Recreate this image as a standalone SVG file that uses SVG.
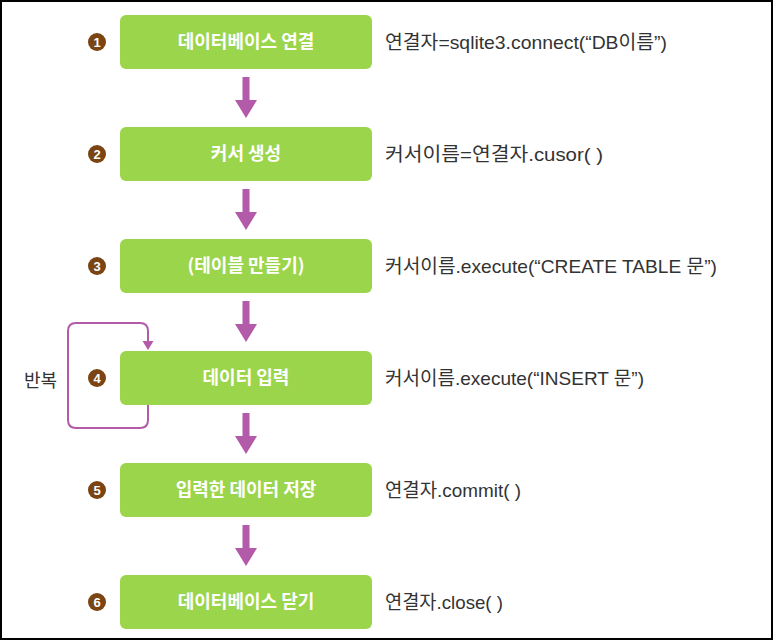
<svg xmlns="http://www.w3.org/2000/svg" width="773" height="640" viewBox="0 0 773 640">
<style>
.box{fill:#9bd54b;}
.lbl{font-family:"Noto Sans CJK KR","Noto Sans",sans-serif;font-size:18px;font-weight:bold;fill:#ffffff;text-anchor:middle;}
.code{font-family:"Liberation Sans","Noto Sans CJK KR",sans-serif;font-size:19px;fill:#333333;}
.num{fill:#7a4413;}
.numt{font-family:"Liberation Sans",sans-serif;font-size:13px;font-weight:bold;fill:#ffffff;text-anchor:middle;}
.arr{fill:#b35aa8;}
.loop{fill:none;stroke:#b35aa8;stroke-width:2;}
</style>
<rect x="1" y="1" width="771" height="638" fill="#ffffff" stroke="#000000" stroke-width="2"/>
<g id="connectors">
<g class="arr">
<path d="M242.5,77 H249.5 V100 H257 L246,118 L235,100 H242.5 Z"/>
<path d="M242.5,189 H249.5 V212 H257 L246,230 L235,212 H242.5 Z"/>
<path d="M242.5,301 H249.5 V324 H257 L246,342 L235,324 H242.5 Z"/>
<path d="M242.5,413 H249.5 V436 H257 L246,454 L235,436 H242.5 Z"/>
<path d="M242.5,525 H249.5 V548 H257 L246,566 L235,548 H242.5 Z"/>
</g>
<path class="loop" d="M148,404 V420 Q148,428 140,428 H76 Q68,428 68,420 V331 Q68,323 76,323 H140 Q148,323 148,331 V342"/>
<path class="arr" d="M142.5,341 H153.5 L148,350 Z"/>
<text x="24" y="387" font-family="Noto Sans CJK KR,sans-serif" font-size="18" fill="#333333">반복</text>
</g>
<g id="n1">
<rect class="box" x="120" y="15" width="252" height="54" rx="6"/>
<text class="lbl" x="246" y="48">데이터베이스 연결</text>
<circle class="num" cx="97" cy="42" r="9"/><text class="numt" x="97" y="46.5">1</text>
<text class="code" x="385" y="49" textLength="282" lengthAdjust="spacingAndGlyphs">연결자=sqlite3.connect(“DB이름”)</text>
</g>
<g id="n2">
<rect class="box" x="120" y="127" width="252" height="54" rx="6"/>
<text class="lbl" x="246" y="160">커서 생성</text>
<circle class="num" cx="97" cy="154" r="9"/><text class="numt" x="97" y="158.5">2</text>
<text class="code" x="385" y="161" textLength="218" lengthAdjust="spacingAndGlyphs">커서이름=연결자.cusor( )</text>
</g>
<g id="n3">
<rect class="box" x="120" y="239" width="252" height="54" rx="6"/>
<text class="lbl" x="246" y="272">(테이블 만들기)</text>
<circle class="num" cx="97" cy="266" r="9"/><text class="numt" x="97" y="270.5">3</text>
<text class="code" x="385" y="273" textLength="332" lengthAdjust="spacingAndGlyphs">커서이름.execute(“CREATE TABLE 문”)</text>
</g>
<g id="n4">
<rect class="box" x="120" y="351" width="252" height="54" rx="6"/>
<text class="lbl" x="246" y="384">데이터 입력</text>
<circle class="num" cx="97" cy="378" r="9"/><text class="numt" x="97" y="382.5">4</text>
<text class="code" x="385" y="385" textLength="259" lengthAdjust="spacingAndGlyphs">커서이름.execute(“INSERT 문”)</text>
</g>
<g id="n5">
<rect class="box" x="120" y="463" width="252" height="54" rx="6"/>
<text class="lbl" x="246" y="496">입력한 데이터 저장</text>
<circle class="num" cx="97" cy="490" r="9"/><text class="numt" x="97" y="494.5">5</text>
<text class="code" x="385" y="497" textLength="136" lengthAdjust="spacingAndGlyphs">연결자.commit( )</text>
</g>
<g id="n6">
<rect class="box" x="120" y="575" width="252" height="54" rx="6"/>
<text class="lbl" x="246" y="608">데이터베이스 닫기</text>
<circle class="num" cx="97" cy="602" r="9"/><text class="numt" x="97" y="606.5">6</text>
<text class="code" x="385" y="609" textLength="118" lengthAdjust="spacingAndGlyphs">연결자.close( )</text>
</g>
</svg>
